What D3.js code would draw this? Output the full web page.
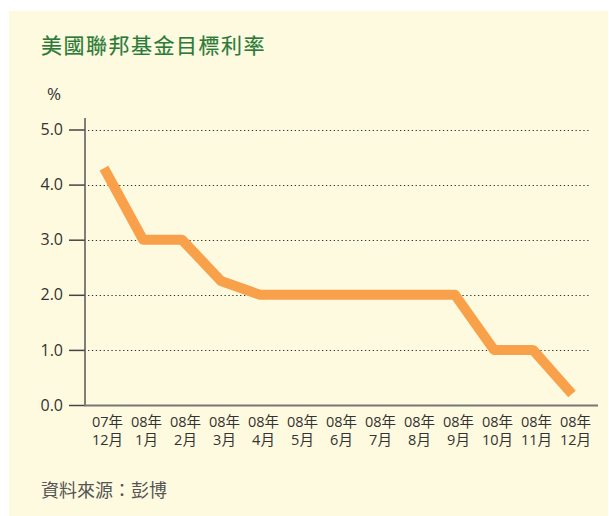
<!DOCTYPE html>
<html><head><meta charset="utf-8">
<script src="https://cdn.jsdelivr.net/npm/d3@7"></script>
<style>
html,body{margin:0;padding:0;background:#fff;}
svg text{font-family:"Open Sans","Noto Sans CJK TC",sans-serif;}
</style></head>
<body>
<svg id="chart" width="609" height="516"></svg>
<script>
const title = "美國聯邦基金目標利率";
const unitLabel = "%";
const source = "資料來源：彭博";
const yearLabels = ["07年","08年","08年","08年","08年","08年","08年","08年","08年","08年","08年","08年","08年"];
const monthLabels = ["12月","1月","2月","3月","4月","5月","6月","7月","8月","9月","10月","11月","12月"];
const rates = [4.3, 3.0, 3.0, 2.25, 2.0, 2.0, 2.0, 2.0, 2.0, 2.0, 1.0, 1.0, 0.2];
const yTicks = [0, 1, 2, 3, 4, 5];

const svg = d3.select("#chart");
svg.append("rect").attr("x", 9).attr("y", 11).attr("width", 599).attr("height", 505).attr("fill", "#FEFADF");

svg.append("text").attr("x", 41).attr("y", 53).attr("fill", "#2b7a38")
  .attr("stroke", "#2b7a38").attr("stroke-width", 0.2)
  .style("font-size", "21px").style("letter-spacing", "1.5px").text(title);
svg.append("text").attr("x", 47).attr("y", 100).attr("fill", "#333")
  .style("font-size", "17px").text(unitLabel);

const idx = d3.range(rates.length);
const x = d3.scaleLinear().domain([0, rates.length - 1]).range([104, 572]);
const y = d3.scaleLinear().domain([0, 5]).range([405, 129.5]);

// gridlines
svg.append("g").selectAll("line").data(yTicks.filter(d => d > 0)).join("line")
  .attr("x1", 88).attr("x2", 591)
  .attr("y1", d => Math.round(y(d)) + 0.5).attr("y2", d => Math.round(y(d)) + 0.5)
  .attr("stroke", "#333").attr("stroke-width", 1.2).attr("stroke-dasharray", "1.3,2.6");

// y axis
const yAxis = svg.append("g").attr("transform", "translate(85,0)")
  .call(d3.axisLeft(y).tickValues(yTicks).tickFormat(d3.format(".1f")).tickSize(16).tickPadding(6));
yAxis.select(".domain").remove();
yAxis.selectAll(".tick line").attr("stroke", "#444").attr("stroke-width", 1.5);
yAxis.selectAll(".tick text").attr("fill", "#333").style("font-size", "16px")
  .style("font-family", "'Open Sans',sans-serif");
svg.append("line").attr("x1", 85).attr("x2", 85).attr("y1", 118).attr("y2", 406)
  .attr("stroke", "#555").attr("stroke-width", 1.5);

// x axis baseline
svg.append("line").attr("x1", 84).attr("x2", 598).attr("y1", 405.5).attr("y2", 405.5)
  .attr("stroke", "#777").attr("stroke-width", 1.8);

// x labels
const xAxis = svg.append("g").attr("transform", "translate(0,405)")
  .call(d3.axisBottom(x).tickValues(idx).tickSize(0).tickFormat(""));
xAxis.select(".domain").remove();
xAxis.selectAll(".tick text").each(function(d) {
  const t = d3.select(this).attr("y", 0).attr("dy", null).attr("fill", "#333").style("font-size", "14.5px");
  t.append("tspan").attr("x", 3).attr("y", 22).text(yearLabels[d]);
  t.append("tspan").attr("x", 3).attr("y", 40).text(monthLabels[d]);
});

// line
const line = d3.line().x((d, i) => x(i)).y(d => y(d));
svg.append("path").datum(rates).attr("d", line).attr("fill", "none")
  .attr("stroke", "#F8A04A").attr("stroke-width", 10)
  .attr("stroke-linejoin", "round").attr("stroke-linecap", "butt");

svg.append("text").attr("x", 41).attr("y", 497).attr("fill", "#555")
  .style("font-size", "18px").text(source);
</script>
</body></html>
